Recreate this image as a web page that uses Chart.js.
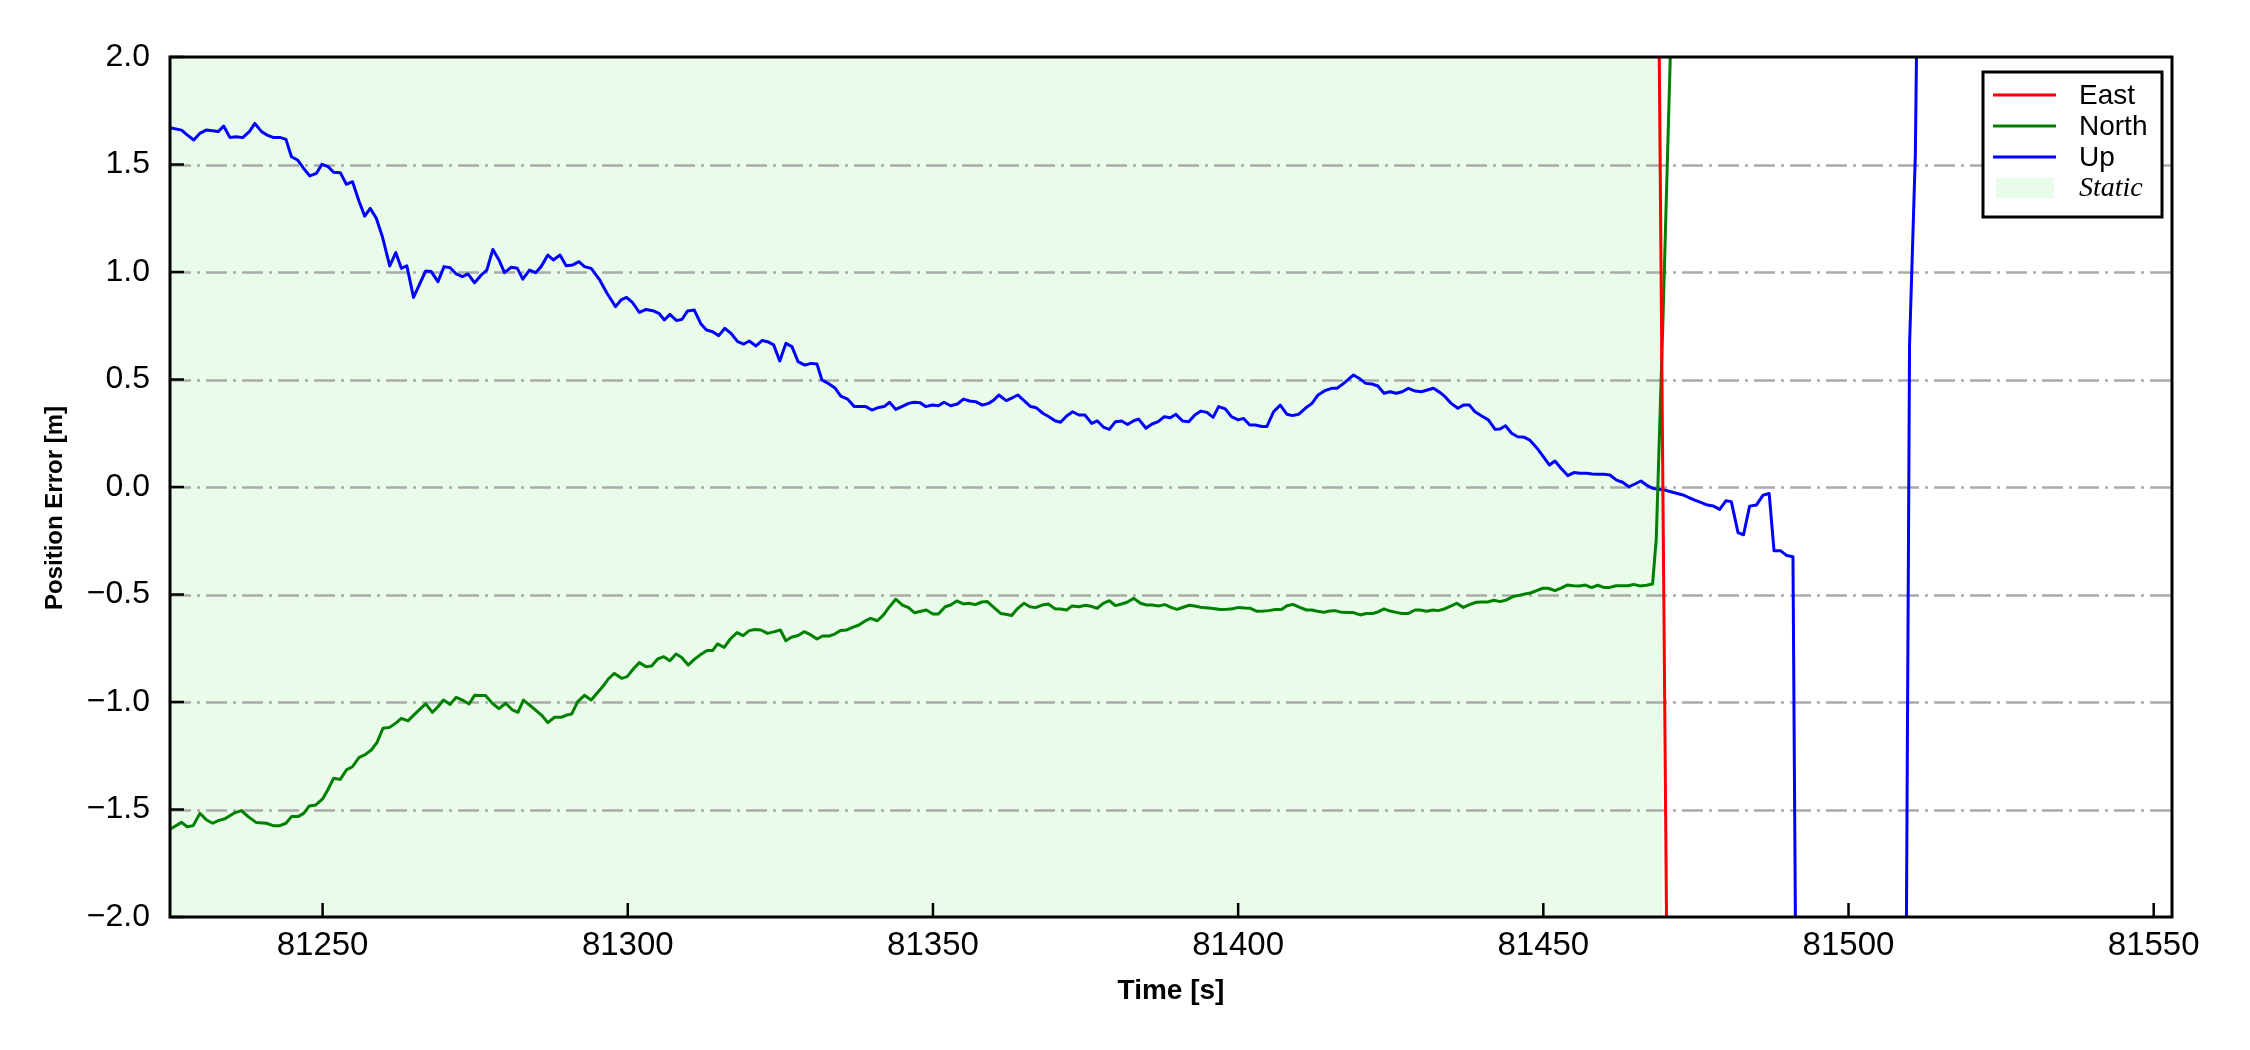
<!DOCTYPE html>
<html>
<head>
<meta charset="utf-8">
<script src="https://cdn.jsdelivr.net/npm/chart.js@4.4.1/dist/chart.umd.min.js"></script>
<style>
  html, body { margin: 0; padding: 0; background: #ffffff; }
  #wrap { width: 2250px; height: 1050px; }
</style>
</head>
<body>
<div id="wrap"><canvas id="c" width="2250" height="1050"></canvas></div>
<script>
// ---------------- data ----------------
const upTime = [81225.0,81226.9,81227.7,81228.9,81229.9,81230.9,81232.0,81232.9,81233.8,81234.8,81235.9,81236.9,81238.0,81238.9,81240.0,81240.9,81241.9,81243.0,81244.0,81244.9,81245.9,81246.8,81247.9,81249.0,81249.9,81250.9,81251.8,81252.9,81253.9,81254.9,81256.0,81256.9,81257.8,81258.8,81259.8,81261.0,81262.0,81262.9,81263.8,81264.9,81266.0,81266.9,81267.8,81268.9,81269.9,81270.9,81271.9,81272.9,81273.8,81274.9,81276.0,81276.9,81277.9,81278.9,81279.8,81280.9,81281.9,81282.8,81283.9,81284.9,81285.8,81286.9,81287.8,81288.9,81289.9,81291.0,81292.0,81292.9,81294.0,
81295.4,81296.6,81298.0,81298.9,81299.8,81300.8,81301.9,81303.0,81304.1,81305.1,81306.0,81306.9,81308.0,81308.9,81309.8,81310.9,81312.0,81312.9,81313.9,81314.9,81315.9,81316.9,81318.0,81319.0,81319.9,81321.0,81322.0,81322.9,81323.9,81324.9,81325.9,81326.9,81327.9,81329.0,81330.0,81331.0,81331.8,81333.0,81334.0,81334.9,81336.0,81337.1,81338.0,81339.0,81340.0,81341.1,81342.0,81342.9,81343.9,81344.9,81346.0,81346.9,81347.9,81348.8,81349.9,81350.9,81351.8,81352.9,81354.0,81355.0,81356.0,81357.0,81358.1,81359.1,81360.0,
81360.8,81362.0,81363.0,81363.9,81365.1,81366.0,81366.9,81368.0,81369.0,81370.0,81370.9,81371.9,81372.9,81373.9,81374.9,81376.0,81376.9,81378.0,81378.9,81379.9,81380.9,81381.9,81382.9,81383.7,81384.9,81385.9,81386.9,81387.9,81388.9,81389.8,81390.9,81391.9,81392.9,81393.9,81394.9,81395.9,81396.8,81397.9,81398.9,81400.0,81400.9,81401.9,81402.8,81403.9,81404.7,81405.8,81406.9,81408.0,81408.9,81409.9,81411.0,81412.1,81413.1,81414.2,81415.3,81416.2,81417.3,81418.1,81418.9,81420.0,81420.9,81421.9,81422.9,81423.9,81424.9,81425.9,81426.9,81427.9,81429.0,81430.0,81431.0,81432.0,81433.1,
81433.9,81434.9,81436.0,81436.9,81437.9,81438.8,81439.9,81441.0,81442.1,81442.9,81443.8,81444.8,81445.8,81446.9,81447.8,81448.9,81450.0,81451.0,81451.9,81452.9,81454.0,81455.0,81456.0,81457.1,81458.0,81459.0,81460.0,81460.9,81462.0,81463.0,81464.0,81465.0,81466.0,81466.9,81467.9,81468.8,81469.8,81470.9,81471.8,81472.9,81473.9,81474.8,81475.9,81476.9,81477.8,81478.9,81479.9,81480.8,
81481.9,81482.8,81483.8,81484.9,81486.0,81487.0,81487.8,81488.9,81489.9,81490.9,81491.5,81509.4,81510.0,81510.95,81511.5];
const upErr = [1.671,1.660,1.640,1.614,1.645,1.660,1.657,1.653,1.679,1.626,1.629,1.625,1.653,1.691,1.653,1.637,1.626,1.626,1.617,1.536,1.521,1.485,1.447,1.459,1.501,1.490,1.464,1.462,1.408,1.420,1.327,1.260,1.296,1.250,1.164,1.028,1.090,1.017,1.029,0.882,0.950,1.005,1.002,0.955,1.025,1.020,0.991,0.978,0.991,0.950,0.986,1.009,1.105,1.056,0.997,1.022,1.017,0.967,1.009,0.997,1.025,1.079,1.056,1.079,1.029,1.033,1.048,1.025,1.017,
0.963,0.901,0.839,0.870,0.882,0.857,0.812,0.826,0.820,0.808,0.777,0.803,0.774,0.780,0.819,0.823,0.758,0.730,0.722,0.704,0.738,0.715,0.676,0.665,0.679,0.656,0.681,0.676,0.661,0.586,0.668,0.653,0.583,0.567,0.575,0.572,0.498,0.479,0.459,0.423,0.409,0.374,0.374,0.374,0.358,0.370,0.374,0.394,0.361,0.374,0.389,0.394,0.392,0.374,0.381,0.378,0.394,0.378,0.386,0.409,0.400,0.397,0.381,0.389,0.405,
0.428,0.402,0.415,0.428,0.397,0.374,0.369,0.343,0.327,0.308,0.301,0.330,0.350,0.335,0.335,0.296,0.308,0.277,0.268,0.304,0.307,0.291,0.308,0.316,0.273,0.293,0.304,0.327,0.322,0.338,0.307,0.304,0.335,0.353,0.347,0.324,0.374,0.363,0.327,0.312,0.319,0.288,0.288,0.281,0.281,0.350,0.381,0.338,0.332,0.338,0.366,0.389,0.428,0.448,0.459,0.459,0.482,0.502,0.521,0.502,0.482,0.479,0.470,0.436,0.443,0.436,0.443,0.459,0.446,0.443,0.451,0.459,0.439,
0.420,0.389,0.366,0.381,0.381,0.350,0.330,0.312,0.268,0.270,0.285,0.250,0.234,0.231,0.218,0.183,0.141,0.102,0.121,0.087,0.053,0.067,0.064,0.064,0.060,0.059,0.059,0.056,0.032,0.022,0.001,0.014,0.028,0.009,-0.006,-0.011,-0.014,-0.022,-0.029,-0.037,-0.050,-0.061,-0.073,-0.084,-0.088,-0.104,-0.064,-0.068,
-0.212,-0.222,-0.089,-0.084,-0.038,-0.030,-0.297,-0.297,-0.319,-0.324,-2.85,-2.5,0.66,1.545,2.9];

const northTime = [81225.0,81226.9,81227.8,81228.8,81229.9,81231.0,81232.0,81232.9,81234.0,81235.6,81236.7,81237.8,81239.1,81240.8,81241.9,81243.0,81244.0,81244.9,81246.0,81246.9,81247.8,81248.9,81250.0,81250.9,81251.8,81252.9,81253.9,81254.9,81256.0,81256.9,81258.0,81258.9,81259.9,81261.0,81262.1,81262.9,81264.0,81265.1,81266.0,81266.9,81268.0,81268.9,81269.8,81270.9,81271.9,81272.9,81274.0,81274.9,81275.8,81276.7,81277.8,81278.9,81280.0,81281.1,81282.0,81282.9,81283.9,81285.0,81286.0,
81286.9,81288.0,81289.1,81289.9,81290.8,81291.8,81292.9,81294.0,81295.1,81296.1,81296.8,81297.8,81299.0,81299.9,81301.0,81301.9,81303.0,81303.9,81304.9,81305.9,81306.9,81307.9,81308.8,81309.9,81310.9,81312.0,81313.0,81313.9,81314.7,81315.8,81316.8,81317.9,81318.9,81319.9,81320.8,81321.8,81322.9,81323.9,81325.0,81325.9,81326.8,81327.9,81328.9,81330.0,81331.0,81331.9,81333.0,81333.9,81334.9,81335.9,81336.8,81337.8,81338.9,81339.8,81340.9,81341.9,81342.8,81343.9,81345.0,81346.0,81347.0,
81348.9,81350.0,81350.9,81352.0,81352.9,81353.9,81355.0,81355.9,81356.9,81358.0,81358.9,81360.0,81361.1,81361.9,81362.9,81363.8,81364.9,81365.9,81366.8,81367.9,81368.9,81370.0,81370.9,81371.9,81372.8,81373.9,81375.0,81375.9,81376.9,81377.9,81378.9,81379.9,81380.9,81381.8,81382.9,81384.0,81385.0,81385.9,81387.0,81388.0,81389.1,81390.0,81391.1,81392.0,81393.1,81394.1,81395.2,81396.2,81397.1,81398.2,81399.1,81400.1,81401.1,81402.0,81403.1,81404.2,81405.0,81406.1,81407.1,81408.0,81409.0,
81410.1,81411.2,81412.1,81413.0,81414.0,81415.0,81415.9,81417.0,81418.1,81418.9,81420.0,81421.0,81422.1,81423.0,81423.9,81424.9,81425.9,81426.8,81427.9,81429.0,81429.8,81430.9,81431.9,81432.8,81433.9,81434.9,81435.8,81436.9,81437.9,81439.0,81439.9,81440.9,81441.9,81442.9,81443.9,81445.0,81446.0,81447.0,81447.9,81448.9,81449.9,81450.8,81451.9,81452.9,81453.9,81454.9,81455.9,81456.9,81457.9,81458.9,81459.9,81460.9,81461.9,81463.0,81463.9,81464.8,81465.8,81466.9,81467.9,
81468.5,81469.6,81470.8,81471.5];
const northErr = [-1.592,-1.560,-1.580,-1.575,-1.518,-1.549,-1.564,-1.552,-1.543,-1.515,-1.505,-1.533,-1.560,-1.564,-1.575,-1.575,-1.564,-1.533,-1.533,-1.518,-1.484,-1.479,-1.451,-1.406,-1.355,-1.360,-1.316,-1.301,-1.257,-1.246,-1.223,-1.189,-1.122,-1.118,-1.096,-1.076,-1.088,-1.056,-1.032,-1.009,-1.048,-1.022,-0.991,-1.011,-0.978,-0.991,-1.009,-0.969,-0.970,-0.970,-1.006,-1.031,-1.006,-1.037,-1.048,-0.991,-1.014,-1.040,-1.065,
-1.096,-1.071,-1.071,-1.062,-1.056,-0.998,-0.969,-0.991,-0.955,-0.921,-0.893,-0.867,-0.890,-0.882,-0.843,-0.817,-0.836,-0.833,-0.800,-0.789,-0.808,-0.777,-0.792,-0.828,-0.802,-0.778,-0.760,-0.761,-0.730,-0.746,-0.707,-0.677,-0.691,-0.668,-0.663,-0.665,-0.681,-0.674,-0.665,-0.715,-0.699,-0.691,-0.673,-0.688,-0.707,-0.693,-0.693,-0.684,-0.667,-0.665,-0.653,-0.643,-0.623,-0.611,-0.622,-0.595,-0.560,-0.522,-0.549,-0.561,-0.585,
-0.572,-0.591,-0.591,-0.557,-0.549,-0.530,-0.544,-0.541,-0.547,-0.535,-0.533,-0.561,-0.588,-0.592,-0.598,-0.567,-0.541,-0.557,-0.561,-0.549,-0.544,-0.566,-0.567,-0.572,-0.553,-0.557,-0.550,-0.555,-0.564,-0.541,-0.529,-0.552,-0.544,-0.536,-0.518,-0.541,-0.549,-0.549,-0.553,-0.547,-0.561,-0.569,-0.558,-0.550,-0.555,-0.561,-0.563,-0.566,-0.570,-0.569,-0.566,-0.560,-0.563,-0.564,-0.578,-0.577,-0.575,-0.570,-0.570,-0.552,-0.546,
-0.560,-0.572,-0.572,-0.578,-0.583,-0.577,-0.575,-0.583,-0.584,-0.584,-0.595,-0.588,-0.588,-0.580,-0.567,-0.577,-0.583,-0.588,-0.588,-0.572,-0.572,-0.578,-0.572,-0.575,-0.566,-0.553,-0.541,-0.560,-0.547,-0.536,-0.535,-0.535,-0.527,-0.533,-0.526,-0.510,-0.504,-0.498,-0.493,-0.482,-0.471,-0.471,-0.482,-0.470,-0.456,-0.459,-0.460,-0.456,-0.468,-0.457,-0.467,-0.467,-0.459,-0.459,-0.459,-0.453,-0.460,-0.457,-0.451,
-0.244,0.777,2.0,2.8];

const eastTime = [81468.4, 81470.6];
const eastErr  = [4.0, -3.4];

const seriesNames  = ['East', 'North', 'Up'];
const staticLabel  = 'Static';
const staticSpan   = [81225, 81469.5];
const xTicks = [81250, 81300, 81350, 81400, 81450, 81500, 81550];
const yTicks = [-2.0, -1.5, -1.0, -0.5, 0.0, 0.5, 1.0, 1.5, 2.0];
const xRange = [81225, 81553];
const yRange = [-2, 2];
const xTitle = 'Time [s]';
const yTitle = 'Position Error [m]';

// ---------------- helpers ----------------
const pts = (t, v) => t.map((x, i) => ({x: x, y: v[i]}));
const SANS = "'Liberation Sans', Arial, Helvetica, sans-serif";
const STATIC_FILL = 'rgba(144,238,144,0.2)';

const fmtY = v => (v < 0 ? '\u2212' : '') + Math.abs(v).toFixed(1);

const decorPlugin = {
  id: 'decor',
  beforeDatasetsDraw(chart) {
    const {ctx, chartArea: a, scales: {x, y}} = chart;
    ctx.save();
    // static shading
    const x0 = x.getPixelForValue(staticSpan[0]);
    const x1 = x.getPixelForValue(staticSpan[1]);
    ctx.fillStyle = STATIC_FILL;
    ctx.fillRect(x0, a.top, x1 - x0, a.bottom - a.top);
    // dash-dot grid lines
    ctx.strokeStyle = '#aaaaaa';
    ctx.lineWidth = 2.5;
    ctx.setLineDash([21, 6, 3, 6]);
    yTicks.forEach(v => {
      if (v <= yRange[0] || v >= yRange[1]) return;
      const py = Math.round(y.getPixelForValue(v)) + 0.5;
      ctx.beginPath();
      ctx.moveTo(a.left, py);
      ctx.lineTo(a.right, py);
      ctx.stroke();
    });
    ctx.restore();
  },
  afterDatasetsDraw(chart) {
    const {ctx, chartArea: a, scales: {x, y}} = chart;
    ctx.save();
    ctx.setLineDash([]);
    // inward ticks
    ctx.strokeStyle = '#000';
    ctx.lineWidth = 2.5;
    const tl = 14;
    yTicks.forEach(v => {
      const py = y.getPixelForValue(v);
      ctx.beginPath(); ctx.moveTo(a.left, py); ctx.lineTo(a.left + tl, py); ctx.stroke();
    });
    xTicks.forEach(v => {
      const px = x.getPixelForValue(v);
      ctx.beginPath(); ctx.moveTo(px, a.bottom); ctx.lineTo(px, a.bottom - tl); ctx.stroke();
    });
    // frame
    ctx.lineWidth = 3;
    ctx.strokeRect(a.left, a.top, a.right - a.left, a.bottom - a.top);

    // y axis title
    ctx.save();
    ctx.translate(55, (a.top + a.bottom) / 2 + 21);
    ctx.rotate(-Math.PI / 2);
    ctx.fillStyle = '#000';
    ctx.font = 'bold 24px ' + SANS;
    ctx.textAlign = 'center';
    ctx.textBaseline = 'middle';
    ctx.fillText(yTitle, 0, 0);
    ctx.restore();

    // legend
    const bw = 179, bh = 145;
    const bx = a.right - 10 - bw, by = a.top + 15;
    ctx.fillStyle = '#ffffff';
    ctx.fillRect(bx, by, bw, bh);
    ctx.lineWidth = 3;
    ctx.strokeStyle = '#000';
    ctx.strokeRect(bx, by, bw, bh);
    const rows = [23, 54, 85, 115.5];
    const sx0 = bx + 10, sx1 = bx + 73, tx = bx + 96;
    chart.data.datasets.forEach((ds, i) => {
      const ry = by + rows[i];
      ctx.strokeStyle = ds.borderColor;
      ctx.lineWidth = 3;
      ctx.beginPath(); ctx.moveTo(sx0, ry); ctx.lineTo(sx1, ry); ctx.stroke();
      ctx.fillStyle = '#000';
      ctx.font = '28px ' + SANS;
      ctx.textBaseline = 'middle';
      ctx.textAlign = 'left';
      ctx.fillText(ds.label, tx, ry + 1);
    });
    const sy = by + rows[3];
    ctx.fillStyle = STATIC_FILL;
    ctx.fillRect(bx + 13, sy - 10, 58, 21);
    ctx.fillStyle = '#000';
    ctx.font = "italic 28px 'Liberation Serif', 'Times New Roman', serif";
    ctx.textBaseline = 'middle';
    ctx.fillText(staticLabel, tx, sy + 1);
    ctx.restore();
  }
};

Chart.defaults.font.family = SANS;
Chart.defaults.color = '#000';

new Chart(document.getElementById('c'), {
  type: 'line',
  data: {
    datasets: [
      {label: seriesNames[0], data: pts(eastTime, eastErr),  borderColor: '#ff0000', borderWidth: 3},
      {label: seriesNames[1], data: pts(northTime, northErr), borderColor: '#008000', borderWidth: 3},
      {label: seriesNames[2], data: pts(upTime, upErr),       borderColor: '#0000ff', borderWidth: 3}
    ]
  },
  options: {
    responsive: false,
    animation: false,
    devicePixelRatio: 1,
    layout: {padding: {top: 57, right: 78, left: 0, bottom: 0}},
    elements: {
      point: {radius: 0, hoverRadius: 0},
      line: {tension: 0, borderJoinStyle: 'round', borderCapStyle: 'butt', fill: false}
    },
    datasets: {line: {clip: 0}},
    plugins: {legend: {display: false}, tooltip: {enabled: false}},
    events: [],
    scales: {
      x: {
        type: 'linear',
        min: xRange[0], max: xRange[1],
        afterBuildTicks: s => { s.ticks = xTicks.map(v => ({value: v})); },
        afterFit: s => { s.height = 133; },
        grid: {display: false, drawTicks: false},
        border: {display: false},
        ticks: {
          padding: 9,
          font: {size: 33},
          color: '#000',
          maxRotation: 0,
          autoSkip: false,
          callback: v => String(v)
        },
        title: {display: true, text: xTitle, font: {size: 28, weight: 'bold'}, color: '#000', padding: {top: 0, bottom: 42}}
      },
      y: {
        type: 'linear',
        min: yRange[0], max: yRange[1],
        afterBuildTicks: s => { s.ticks = yTicks.map(v => ({value: v})); },
        afterFit: s => { s.width = 170; },
        grid: {display: false, drawTicks: false},
        border: {display: false},
        ticks: {
          padding: 20,
          font: {size: 32},
          color: '#000',
          autoSkip: false,
          callback: v => fmtY(v)
        },
        title: {display: false}
      }
    }
  },
  plugins: [decorPlugin]
});
</script>
</body>
</html>
